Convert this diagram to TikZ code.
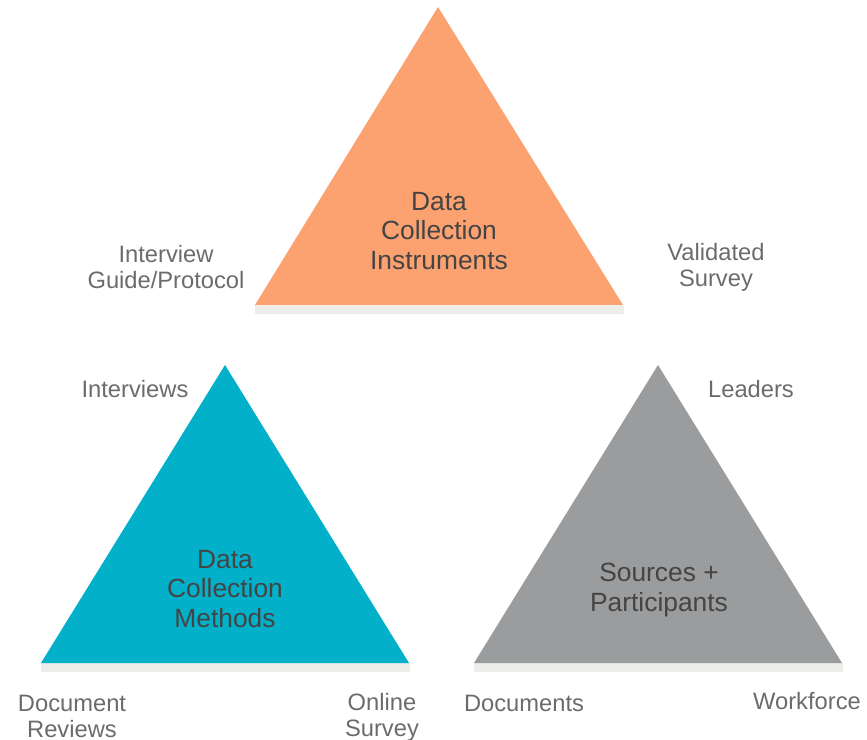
\documentclass[tikz,border=0pt]{standalone}
\usepackage{fontspec}
\setmainfont{Liberation Sans}
\definecolor{SoftOrange}{HTML}{FCA170}
\definecolor{Teal}{HTML}{03B0C9}
\definecolor{MidGray}{HTML}{9B9C9E}
\definecolor{ShadowGray}{HTML}{EDEDEA}
\definecolor{TextDark}{HTML}{444444}
\definecolor{LabelGray}{HTML}{6B6B6B}
\begin{document}
\begin{tikzpicture}[
    x=0.02cm, y=-0.02cm,
    shade/.style={fill=ShadowGray},
    inner/.style={font=\fontsize{15}{16.8}\selectfont, text=TextDark, align=center},
    tag/.style={font=\fontsize{13.5}{14.8}\selectfont, text=LabelGray, align=center},
]
\useasboundingbox (0,0) rectangle (867,740);

% instrumentos
\fill[shade] (255,305) rectangle (624,314);
\fill[SoftOrange] (438,7) -- (623,305) -- (255,305) -- cycle;
\node[inner] (instr) at (439,231) {Data\\Collection\\Instruments};
\node[tag] (guide) at (166,267) {Interview\\Guide/Protocol};
\node[tag] (valid) at (716,267) {Validated\\Survey};

% metodos
\fill[shade] (41,663) rectangle (410,672);
\fill[Teal] (225,365) -- (409,663) -- (41,663) -- cycle;
\node[inner] (methods) at (225,589) {Data\\Collection\\Methods};
\node[tag] (interv) at (135,389) {Interviews};
\node[tag] (docrev) at (72,716) {Document\\Reviews};
\node[tag] (online) at (382,717) {Online\\Survey};

% fuentes
\fill[shade] (474,663) rectangle (843,672);
\fill[MidGray] (658,365) -- (842,663) -- (474,663) -- cycle;
\node[inner] (sources) at (659,590) {Sources +\\Participants};
\node[tag] (leaders) at (751,389) {Leaders};
\node[tag] (docs) at (524,703) {Documents};
\node[tag] (work) at (807,701) {Workforce};

\end{tikzpicture}
\end{document}
